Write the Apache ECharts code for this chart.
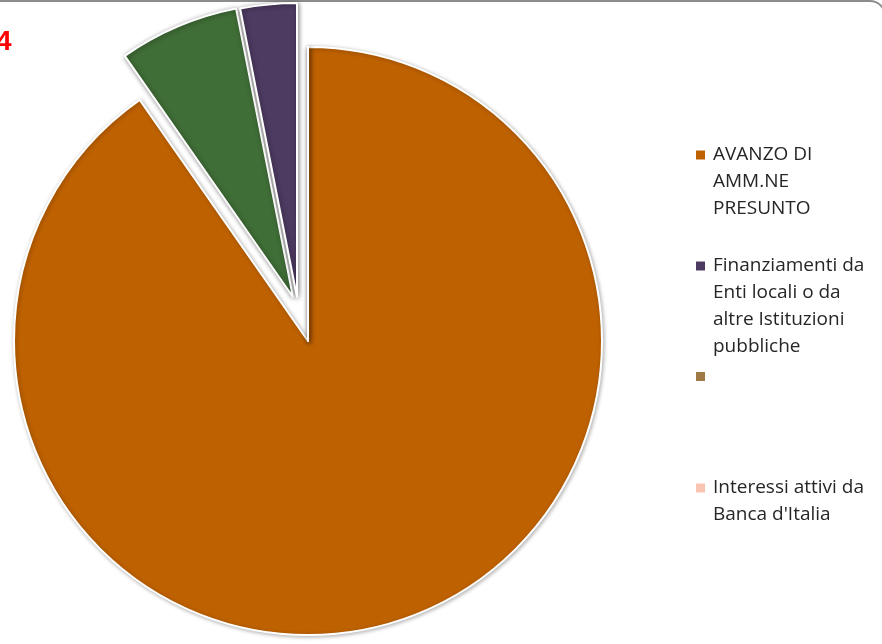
<!DOCTYPE html>
<html>
<head>
<meta charset="utf-8">
<script src="https://cdn.jsdelivr.net/npm/echarts@6/dist/echarts.min.js"></script>
<style>
  html, body { margin: 0; padding: 0; background: #fff; overflow: hidden; }
  #frame { position: absolute; left: -10px; top: 0; width: 896px; height: 700px; box-sizing: border-box;
           border-top: 2px solid #8c8c8c; border-right: 2px solid #8c8c8c; border-top-right-radius: 16px; }
  #chart { position: absolute; left: 0; top: 0; width: 882px; height: 644px; }
</style>
</head>
<body>
<div id="frame"></div>
<div id="chart"></div>
<script>
// ---- data ----
const sliceNames  = ['AVANZO DI AMM.NE PRESUNTO', 'Voce 2', 'Finanziamenti da Enti locali o da altre Istituzioni pubbliche', ' ', "Interessi attivi da Banca d'Italia"];
const sliceValues = [90.3, 6.6, 3.1, 0, 0];
const sliceColors = ['#BE6100', '#406E37', '#4E3B62', '#A07A44', '#F9C4B2'];
const legendNames = ['AVANZO DI AMM.NE PRESUNTO', 'Finanziamenti da Enti locali o da altre Istituzioni pubbliche', ' ', "Interessi attivi da Banca d'Italia"];
const legendLabels = ['AVANZO DI\nAMM.NE\nPRESUNTO', 'Finanziamenti da\nEnti locali o da\naltre Istituzioni\npubbliche', ' ', "Interessi attivi da\nBanca d'Italia"];
const titleText = '4';

// ---- layout ----
const R = 294;
const mainCenter = [308, 341];
const explodedCenters = { 1: [293, 297], 2: [297, 297] };
const LH = 26.7;
const legendIconY = [155, 266, 376.5, 488];
const FONT = 'Open Sans';

const chart = echarts.init(document.getElementById('chart'), null, { renderer: 'canvas' });

const shadowStyle = { borderColor: '#ffffff', borderWidth: 2, shadowBlur: 5, shadowColor: 'rgba(0,0,0,0.45)', shadowOffsetX: 1, shadowOffsetY: 1 };
const hidden = { color: 'transparent', borderWidth: 0, shadowBlur: 0, shadowColor: 'transparent' };

function makeSeries(center, visibleIdx) {
  return {
    type: 'pie',
    center: center,
    radius: R,
    startAngle: 90,
    clockwise: true,
    silent: true,
    label: { show: false },
    labelLine: { show: false },
    emphasis: { disabled: true },
    animation: false,
    data: sliceNames.map((n, i) => ({
      name: n,
      value: sliceValues[i],
      itemStyle: visibleIdx.includes(i)
        ? Object.assign({ color: sliceColors[i] }, shadowStyle, i === 0 ? { shadowBlur: 4, shadowColor: 'rgba(0,0,0,0.3)' } : {})
        : hidden
    }))
  };
}

const series = [
  makeSeries(mainCenter, [0, 3, 4]),
  makeSeries(explodedCenters[1], [1]),
  makeSeries(explodedCenters[2], [2])
];

const legends = legendNames.map((name, k) => {
  const lines = legendLabels[k].split('\n');
  const n = lines.length;
  const H = (2 * n - 1) * LH;
  const colorIdx = sliceNames.indexOf(name);
  // leading blank lines keep the first text line level with the icon
  const shown = new Array(n - 1).fill('{b| }').concat(lines.map(l => '{t|' + l + '}')).join('\n');
  return {
    orient: 'vertical',
    left: 696,
    top: legendIconY[k] - H / 2,
    padding: 0,
    icon: 'rect',
    itemWidth: 9,
    itemHeight: 9,
    itemGap: 0,
    selectedMode: false,
    data: [{ name: name, itemStyle: { color: sliceColors[colorIdx], borderWidth: 0, shadowBlur: 0 } }],
    formatter: () => shown,
    textStyle: {
      fontFamily: FONT,
      fontSize: 19,
      lineHeight: LH,
      color: '#262626',
      rich: {
        t: { fontFamily: FONT, fontSize: 19, lineHeight: LH, color: '#262626', padding: [0, 0, 0, 3] },
        b: { fontFamily: FONT, fontSize: 19, lineHeight: LH, color: '#262626' }
      }
    }
  };
});

chart.setOption({
  animation: false,
  title: {
    text: titleText,
    left: -9,
    top: 23,
    textStyle: { color: '#FF0000', fontSize: 28, fontWeight: 'bold', fontFamily: 'Liberation Sans' }
  },
  legend: legends,
  series: series
});
</script>
</body>
</html>
